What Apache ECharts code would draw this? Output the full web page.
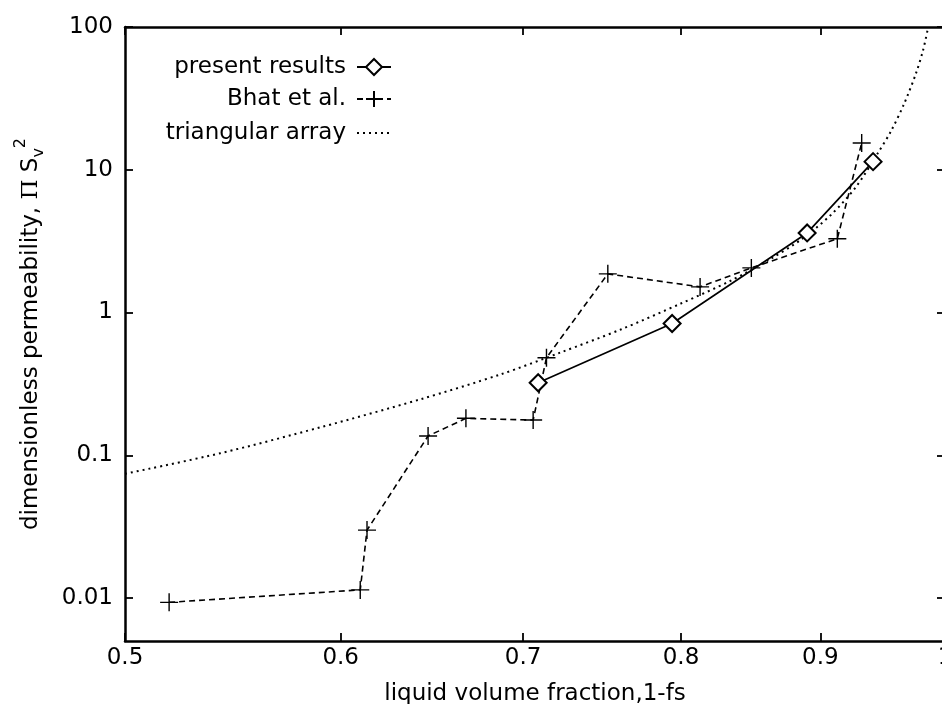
<!DOCTYPE html>
<html><head><meta charset="utf-8">
<script src="https://cdn.jsdelivr.net/npm/echarts@6/dist/echarts.min.js"></script>
<style>html,body{margin:0;padding:0;background:#fff}#c{width:942px;height:704px}</style>
</head><body><div id="c"></div>
<script>
const xTicks = [0.5, 0.6, 0.7, 0.8, 0.9, 1];
const yTicks = [0.01, 0.1, 1, 10, 100];
const presentX = [0.709, 0.794, 0.890, 0.941];
const presentY = [0.322, 0.838, 3.61, 11.4];
const bhatX = [0.519, 0.610, 0.6135, 0.646, 0.667, 0.706, 0.714, 0.752, 0.813, 0.849, 0.913, 0.932];
const bhatY = [0.00933, 0.0114, 0.0299, 0.1365, 0.1815, 0.1765, 0.482, 1.865, 1.512, 2.054, 3.29, 15.4];
const triX = [0.5, 0.5419, 0.5898, 0.6417, 0.6868, 0.7226, 0.7603, 0.7999, 0.8345, 0.8632, 0.8854, 0.9082, 0.9276, 0.9450, 0.9555, 0.9660, 0.9759, 0.9817, 0.9859];
const triY = [0.0742, 0.1033, 0.157, 0.2464, 0.3685, 0.5252, 0.7606, 1.156, 1.674, 2.385, 3.24, 4.845, 7.605, 13.15, 18.74, 28.94, 47.68, 69.07, 100];

const FONT = 'DejaVu Sans';
const pair = (xs, ys) => xs.map((x, i) => [x, ys[i]]);
const PLUS = 'path://M8,0 L8,16 M0,8 L16,8';

const chart = echarts.init(document.getElementById('c'), null, {renderer: 'canvas'});
const lineAx = {show: true, onZero: false, lineStyle: {color: '#000', width: 2.5}};
const tickX = {show: true, inside: true, length: 8, customValues: xTicks, lineStyle: {color: '#000', width: 1.8}};
const tickY = {show: true, inside: true, length: 8, customValues: yTicks, lineStyle: {color: '#000', width: 1.8}};
const fmtX = v => String(+(+v).toFixed(1));
const fmtY = v => String(+(+v).toPrecision(1));

const legendBase = {
  orient: 'vertical', right: 550, padding: 0, align: 'right',
  itemWidth: 34, itemHeight: 20, itemGap: 0,
  textStyle: {color: '#000', fontFamily: FONT, fontSize: 23, lineHeight: 26, padding: [0, 6, 0, 0]},
  selectedMode: false
};

chart.setOption({
  animation: false,
  backgroundColor: '#fff',
  grid: {left: 125, top: 27, right: -3, bottom: 63, containLabel: false, outerBoundsMode: 'none'},
  legend: [
    Object.assign({}, legendBase, {top: 54, data: ['present results']}),
    Object.assign({}, legendBase, {top: 86, data: ['Bhat et al.']}),
    Object.assign({}, legendBase, {top: 120, data: ['triangular array'], itemStyle: {opacity: 0}})
  ],
  xAxis: [
    {type: 'log', logBase: 10, position: 'bottom', min: 0.5, max: 1,
     axisLine: lineAx, axisTick: tickX, splitLine: {show: false}, minorTick: {show: false},
     axisLabel: {customValues: xTicks, formatter: fmtX, color: '#000', fontFamily: FONT, fontSize: 23, margin: 6},
     name: 'liquid volume fraction,1-fs', nameLocation: 'middle', nameGap: 42,
     nameTextStyle: {color: '#000', fontFamily: FONT, fontSize: 23}},
    {type: 'log', logBase: 10, position: 'top', min: 0.5, max: 1,
     axisLine: lineAx, axisTick: tickX, splitLine: {show: false}, minorTick: {show: false},
     axisLabel: {show: false}}
  ],
  yAxis: [
    {type: 'log', logBase: 10, position: 'left', min: 0.005, max: 100,
     axisLine: lineAx, axisTick: tickY, splitLine: {show: false}, minorTick: {show: false},
     axisLabel: {customValues: yTicks, formatter: fmtY, color: '#000', fontFamily: FONT, fontSize: 23, margin: 12},
     name: '{a|dimensionless permeability, }{p|\u03A0}{a| S}{sub|v}{sup|2}',
     nameLocation: 'middle', nameGap: 78, nameRotate: 90,
     nameTextStyle: {color: '#000', fontFamily: FONT, fontSize: 23,
       rich: {
         a: {fontFamily: FONT, fontSize: 23, color: '#000', lineHeight: 34, verticalAlign: 'bottom', padding: [0, 0, 4, 0]},
         p: {fontFamily: 'DejaVu Serif', fontSize: 23, color: '#000', lineHeight: 34, verticalAlign: 'bottom', padding: [0, 0, 4, 0]},
         sub: {fontFamily: FONT, fontSize: 16, color: '#000', lineHeight: 16, verticalAlign: 'bottom'},
         sup: {fontFamily: FONT, fontSize: 16, color: '#000', lineHeight: 16, verticalAlign: 'top'}
       }}},
    {type: 'log', logBase: 10, position: 'right', min: 0.005, max: 100,
     axisLine: lineAx, axisTick: tickY, splitLine: {show: false}, minorTick: {show: false},
     axisLabel: {show: false}}
  ],
  series: [
    {name: 'present results', type: 'line', data: pair(presentX, presentY),
     symbol: 'emptyDiamond', symbolSize: 17,
     itemStyle: {color: '#000', borderColor: '#000', borderWidth: 1.4},
     lineStyle: {color: '#000', width: 1.7, type: 'solid'}},
    {name: 'Bhat et al.', type: 'line', data: pair(bhatX, bhatY),
     symbol: PLUS, symbolSize: 18,
     itemStyle: {color: 'transparent', borderColor: '#000', borderWidth: 1.4},
     lineStyle: {color: '#000', width: 1.6, type: [6, 4]}},
    {name: 'triangular array', type: 'line', data: pair(triX, triY),
     symbol: 'none', smooth: 0.3, clip: true,
     itemStyle: {color: '#000'},
     lineStyle: {color: '#000', width: 2, type: [2, 4]}}
  ]
});
</script>
</body></html>
